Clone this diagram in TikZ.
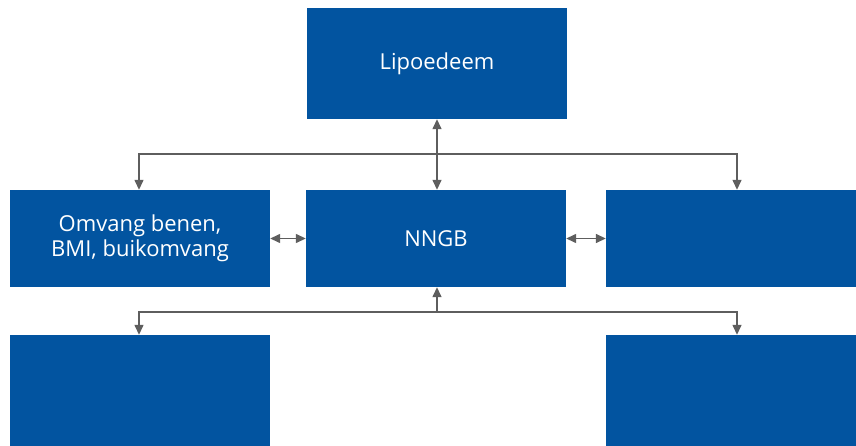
\documentclass[tikz,border=0pt]{standalone}
\usepackage{fontspec}
\setmainfont{Open Sans}
\usetikzlibrary{arrows.meta}
\definecolor{boxblue}{HTML}{0254A0}
\definecolor{linegray}{HTML}{5E5E5E}
\begin{document}
\begin{tikzpicture}[x=1pt,y=-1pt,
  box/.style={fill=boxblue, draw=none, inner sep=0pt, minimum width=260pt, minimum height=#1,
    text=white, font=\fontsize{22}{25}\selectfont, align=center},
  conn/.style={draw=linegray, line width=1.4pt, -{Triangle[length=10pt,width=9pt]}},
  biconn/.style={draw=linegray, line width=1.4pt, {Triangle[length=10pt,width=9pt]}-{Triangle[length=10pt,width=9pt]}},
  plain/.style={draw=linegray, line width=1.4pt}]
\path[use as bounding box] (0,0) rectangle (856,446);
\node[box=111pt] (lip) at (437,63.5) {Lipoedeem};
\node[box=97pt] (ml) at (140,238.5) {Omvang benen,\\BMI, buikomvang};
\node[box=97pt] (nngb) at (436,238.5) {NNGB};
\node[box=97pt, minimum width=250pt] (mr) at (731,238.5) {};
\node[box=111pt] (bl) at (140,390.5) {};
\node[box=111pt, minimum width=250pt] (br) at (731,390.5) {};
\coordinate (t) at (437,154);
\coordinate (b) at (437,312);
\draw[biconn] (lip.south) -- (lip.south |- nngb.north);
\draw[conn] (t) -| ([xshift=-1pt]ml.north);
\draw[conn] (t) -| ([xshift=6pt]mr.north);
\draw[biconn] (ml.east) -- (nngb.west);
\draw[biconn] (nngb.east) -- (mr.west);
\draw[conn] (b) -- (b |- nngb.south);
\draw[conn] (b) -| ([xshift=-1pt]bl.north);
\draw[conn] (b) -| ([xshift=6pt]br.north);
\end{tikzpicture}
\end{document}
